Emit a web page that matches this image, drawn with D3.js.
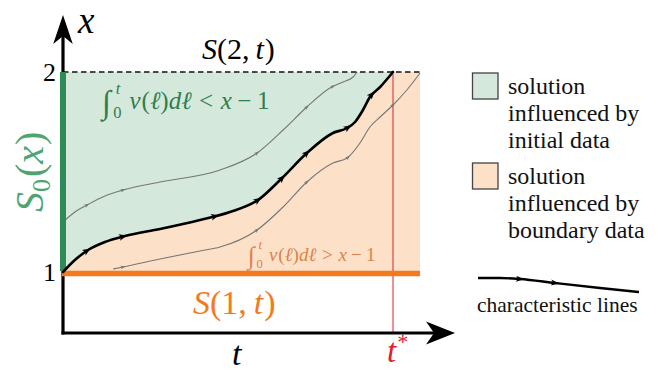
<!DOCTYPE html>
<html><head><meta charset="utf-8">
<script src="https://cdn.jsdelivr.net/npm/d3@7"></script>
<style>
body{margin:0;background:#fff}
#wrap{position:relative;width:672px;height:373px}
svg{display:block}
#labels{position:absolute;left:0;top:0;width:672px;height:373px;pointer-events:none}
.lab{position:absolute;left:0;top:0;white-space:nowrap;font-family:"Liberation Serif";transform-origin:0 0}
.lab span{position:relative}
</style>
</head><body>
<div id="wrap">
<svg id="c" width="672" height="373"></svg>
<div id="labels"></div>
</div>
<script>
// ---- data (t, x) of the characteristic curves ----
const mainT  = [0, 0.036, 0.076, 0.127, 0.188, 0.294, 0.415, 0.506, 0.591, 0.664, 0.739, 0.818, 0.861, 0.885, 0.909, 0.930, 0.961, 1.0];
const mainX  = [1.0, 1.06, 1.11, 1.15, 1.18, 1.215, 1.26, 1.30, 1.36, 1.47, 1.595, 1.695, 1.72, 1.75, 1.81, 1.875, 1.925, 2.0];
const upperT = [0, 0.036, 0.073, 0.127, 0.182, 0.294, 0.476, 0.588, 0.667, 0.739, 0.809, 0.848, 0.879, 0.891];
const upperX = [1.25, 1.30, 1.335, 1.38, 1.41, 1.45, 1.51, 1.595, 1.71, 1.825, 1.92, 1.95, 1.975, 2.0];
const lowerT = [0.152, 0.182, 0.294, 0.415, 0.476, 0.588, 0.667, 0.739, 0.818, 0.861, 0.900, 0.930, 0.961, 1.0, 1.042, 1.082];
const lowerX = [1.015, 1.025, 1.065, 1.105, 1.125, 1.21, 1.325, 1.45, 1.545, 1.57, 1.645, 1.725, 1.775, 1.835, 1.91, 1.995];
// where the direction arrows sit (t values)
const mainArrowT  = [0.073, 0.182, 0.461, 0.591, 0.664, 0.739, 0.864, 0.936];
const upperArrowT = [0.073, 0.182, 0.588, 0.739, 0.818];
const lowerArrowT = [0.182, 0.588, 0.739, 0.864, 1.0];
// domain bounds
const tStar = 1.0, tEnd = 1.082, tDash = 1.09, tAxisEnd = 1.188;
const xLow = 1, xHigh = 2, xOrigin = 0.695, xAxisEnd = 2.285;
const yTicks = ["1", "2"];
const legendItems = [
  ["solution", "influenced by", "initial data"],
  ["solution", "influenced by", "boundary data"]
];
const legendCurve = [[0, 0], [22, 0], [42, 1], [77, 5], [122, 10], [161, 14]];
const legendArrows = [42, 77];

const C = {
  greenFill: "#d5e8dc", orangeFill: "#fde0c8", green: "#2e8b57", greenText: "#4fa472",
  greenMath: "#2f7f4e", orange: "#f47a20", orangeMath: "#d9834a", red: "#e0202a", gray: "#777"
};
const BASE = 18;   // labels are set at this size and scaled into place

const svg = d3.select("#c");
const overlay = d3.select("#labels");
const x = d3.scaleLinear().domain([0, 1]).range([63, 393]);
const y = d3.scaleLinear().domain([1, 2]).range([272, 72]);
const zip = (a, b) => a.map((v, i) => [v, b[i]]);
const mainPts = zip(mainT, mainX), upperPts = zip(upperT, upperX), lowerPts = zip(lowerT, lowerX);

const line = d3.line().x(d => x(d[0])).y(d => y(d[1])).curve(d3.curveMonotoneX);

// regions
svg.append("rect").attr("x", x(0)).attr("y", y(xHigh)).attr("width", x(tEnd) - x(0)).attr("height", y(xLow) - y(xHigh))
  .attr("fill", C.orangeFill);
svg.append("path").datum(mainPts)
  .attr("d", d3.area().x(d => x(d[0])).y0(y(xHigh)).y1(d => y(d[1])).curve(d3.curveMonotoneX))
  .attr("fill", C.greenFill);

// t* marker
svg.append("line").attr("x1", x(tStar)).attr("x2", x(tStar)).attr("y1", y(xHigh) + 2).attr("y2", y(xOrigin))
  .attr("stroke", C.red).attr("stroke-width", 1);

function addArrows(pathSel, ts, len, half, color) {
  const node = pathSel.node(), total = node.getTotalLength();
  ts.forEach(t => {
    const target = x(t);
    let lo = 0, hi = total;
    for (let i = 0; i < 40; i++) {
      const mid = (lo + hi) / 2;
      if (node.getPointAtLength(mid).x < target) lo = mid; else hi = mid;
    }
    const L = Math.min(Math.max(lo, 1.5), total - 1.5);
    const p = node.getPointAtLength(L), a = node.getPointAtLength(L - 1.5), b = node.getPointAtLength(L + 1.5);
    const ang = Math.atan2(b.y - a.y, b.x - a.x) * 180 / Math.PI;
    svg.append("path")
      .attr("d", `M${len / 2},0 L${-len / 2},${-half} L${-len / 4},0 L${-len / 2},${half} Z`)
      .attr("transform", `translate(${p.x},${p.y}) rotate(${ang})`)
      .attr("fill", color);
  });
}

// characteristic curves
const up = svg.append("path").datum(upperPts).attr("d", line).attr("fill", "none").attr("stroke", C.gray).attr("stroke-width", 1.1);
const lw = svg.append("path").datum(lowerPts).attr("d", line).attr("fill", "none").attr("stroke", C.gray).attr("stroke-width", 1.1);
addArrows(up, upperArrowT, 5, 1.8, C.gray);
addArrows(lw, lowerArrowT, 5, 1.8, C.gray);

// dashed upper boundary x = 2
svg.append("line").attr("x1", x(0)).attr("x2", x(tDash)).attr("y1", y(xHigh)).attr("y2", y(xHigh))
  .attr("stroke", "#111").attr("stroke-width", 1.6).attr("stroke-dasharray", "5.5,3.5");

// axes
svg.append("line").attr("x1", x(0) - 1.5).attr("x2", x(tAxisEnd) - 12).attr("y1", y(xOrigin)).attr("y2", y(xOrigin))
  .attr("stroke", "#000").attr("stroke-width", 3.2);
svg.append("line").attr("x1", x(0)).attr("x2", x(0)).attr("y1", y(xOrigin) + 1.6).attr("y2", y(xAxisEnd) + 14)
  .attr("stroke", "#000").attr("stroke-width", 3.2);
const head = "M0,0 L-29,-11.5 L-21,0 L-29,11.5 Z";
svg.append("path").attr("d", head).attr("transform", `translate(${x(tAxisEnd)},${y(xOrigin)})`).attr("fill", "#000");
svg.append("path").attr("d", head).attr("transform", `translate(${x(0)},${y(xAxisEnd)}) rotate(-90) scale(1,0.85)`).attr("fill", "#000");

// boundary data lines
svg.append("line").attr("x1", x(0)).attr("x2", x(0)).attr("y1", y(xLow) - 1).attr("y2", y(xHigh))
  .attr("stroke", C.green).attr("stroke-width", 6);
svg.append("line").attr("x1", x(0) - 1).attr("x2", x(tEnd)).attr("y1", y(xLow) + 1.5).attr("y2", y(xLow) + 1.5)
  .attr("stroke", C.orange).attr("stroke-width", 5.5);

// main characteristic
const mp = svg.append("path").datum(mainPts).attr("d", line).attr("fill", "none").attr("stroke", "#000")
  .attr("stroke-width", 2.6).attr("stroke-linecap", "round");
addArrows(mp, mainArrowT, 8, 3.3, "#000");

// legend marks
legendItems.forEach((lines, i) => {
  svg.append("rect").attr("x", 472.5).attr("y", 73 + i * 90).attr("width", 25.5).attr("height", 26)
    .attr("fill", i === 0 ? C.greenFill : C.orangeFill).attr("stroke", "#444").attr("stroke-width", 1.3);
});
const lgLine = d3.line().x(d => 478 + d[0]).y(d => 278 + d[1]).curve(d3.curveMonotoneX);
const lgPath = svg.append("path").datum(legendCurve).attr("d", lgLine).attr("fill", "none").attr("stroke", "#000").attr("stroke-width", 2.4);
{
  const node = lgPath.node();
  legendArrows.forEach(dx => {
    let lo = 0, hi = node.getTotalLength();
    for (let i = 0; i < 40; i++) { const m = (lo + hi) / 2; if (node.getPointAtLength(m).x < 478 + dx) lo = m; else hi = m; }
    const p = node.getPointAtLength(lo), a = node.getPointAtLength(lo - 1.5), b = node.getPointAtLength(lo + 1.5);
    const ang = Math.atan2(b.y - a.y, b.x - a.x) * 180 / Math.PI;
    svg.append("path").attr("d", "M4,0 L-4,-3 L-2,0 L-4,3 Z")
      .attr("transform", `translate(${p.x},${p.y}) rotate(${ang})`).attr("fill", "#000");
  });
}

// ---- labels: positioned by baseline point (xp, yp) ----
// parts: [string, italic, dx(px), size(px), shift(px, this piece only)]
function label(xp, yp, size, color, parts, anchor, rot) {
  const k = size / BASE;
  const el = overlay.append("div").attr("class", "lab")
    .style("font-size", BASE + "px").style("line-height", BASE + "px").style("color", color);
  parts.forEach(p => {
    const s = el.append("span").text(p[0]).style("font-style", p[1] ? "italic" : "normal");
    if (p[2]) s.style("margin-left", (p[2] / k) + "px");
    if (p[3]) s.style("font-size", (p[3] / k) + "px");
    if (p[4]) s.style("top", (p[4] / k) + "px");
  });
  const mark = el.append("span").style("display", "inline-block").style("width", "0").style("height", "0")
    .style("vertical-align", "baseline");
  const base = mark.node().offsetTop;
  const w = el.node().offsetWidth;
  const ax = anchor === "end" ? w : 0;
  el.style("transform", `translate(${xp}px,${yp}px)${rot ? ` rotate(${rot}deg)` : ""} scale(${k}) translate(${-ax}px,${-base}px)`);
  return el;
}

// axis labels
label(78, 33, 37, "#000", [["x", true]]);
label(232, 365, 34, "#000", [["t", true]]);
label(387, 362, 33, C.red, [["t", true], ["*", false, 1, 22, -12]]);
yTicks.forEach(v => label(56, y(+v) + 9, 26, "#000", [[v, false]], "end"));

// S(2,t), S(1,t)
label(202, 59, 30, "#000", [["S", true], ["(2,", false], ["t", true, 6], [")", false, 1]]);
label(193, 314, 34, C.orange, [["S", true], ["(1,", false], ["t", true, 7], [")", false, 1]]);

// S0(x), vertical
label(43, 212, 40, C.greenText, [["S", true], ["0", false, 0, 26, 7], ["(", false, 2], ["x", true], [")", false, 1]], "start", -90);

// integral conditions
function integral(x0, base, size, color, rel) {
  label(x0, base + size * 0.15, size * 1.3, color, [["∫", true]]);
  label(x0 + size * 0.45, base + size * 0.36, size * 0.66, color, [["0", false]]);
  label(x0 + size * 0.55, base - size * 0.62, size * 0.66, color, [["t", true]]);
  label(x0 + size * 1.1, base, size, color,
    [["v", true], ["(", false, 1], ["ℓ", true], [")", false], ["d", true], ["ℓ", true],
     [rel, false, size * 0.3], ["x", true, size * 0.3], ["−", false, size * 0.22], ["1", false, size * 0.22]]);
}
integral(102, 109, 25, C.greenMath, "<");
integral(248, 261, 19, C.orangeMath, ">");

// legend texts
legendItems.forEach((lines, i) => {
  lines.forEach((s, j) => label(508, 73 + i * 90 + 20.5 + j * 27, 24, "#111", [[s, false]]));
});
label(477, 312, 21.5, "#111", [["characteristic lines", false]]);
</script></body></html>
